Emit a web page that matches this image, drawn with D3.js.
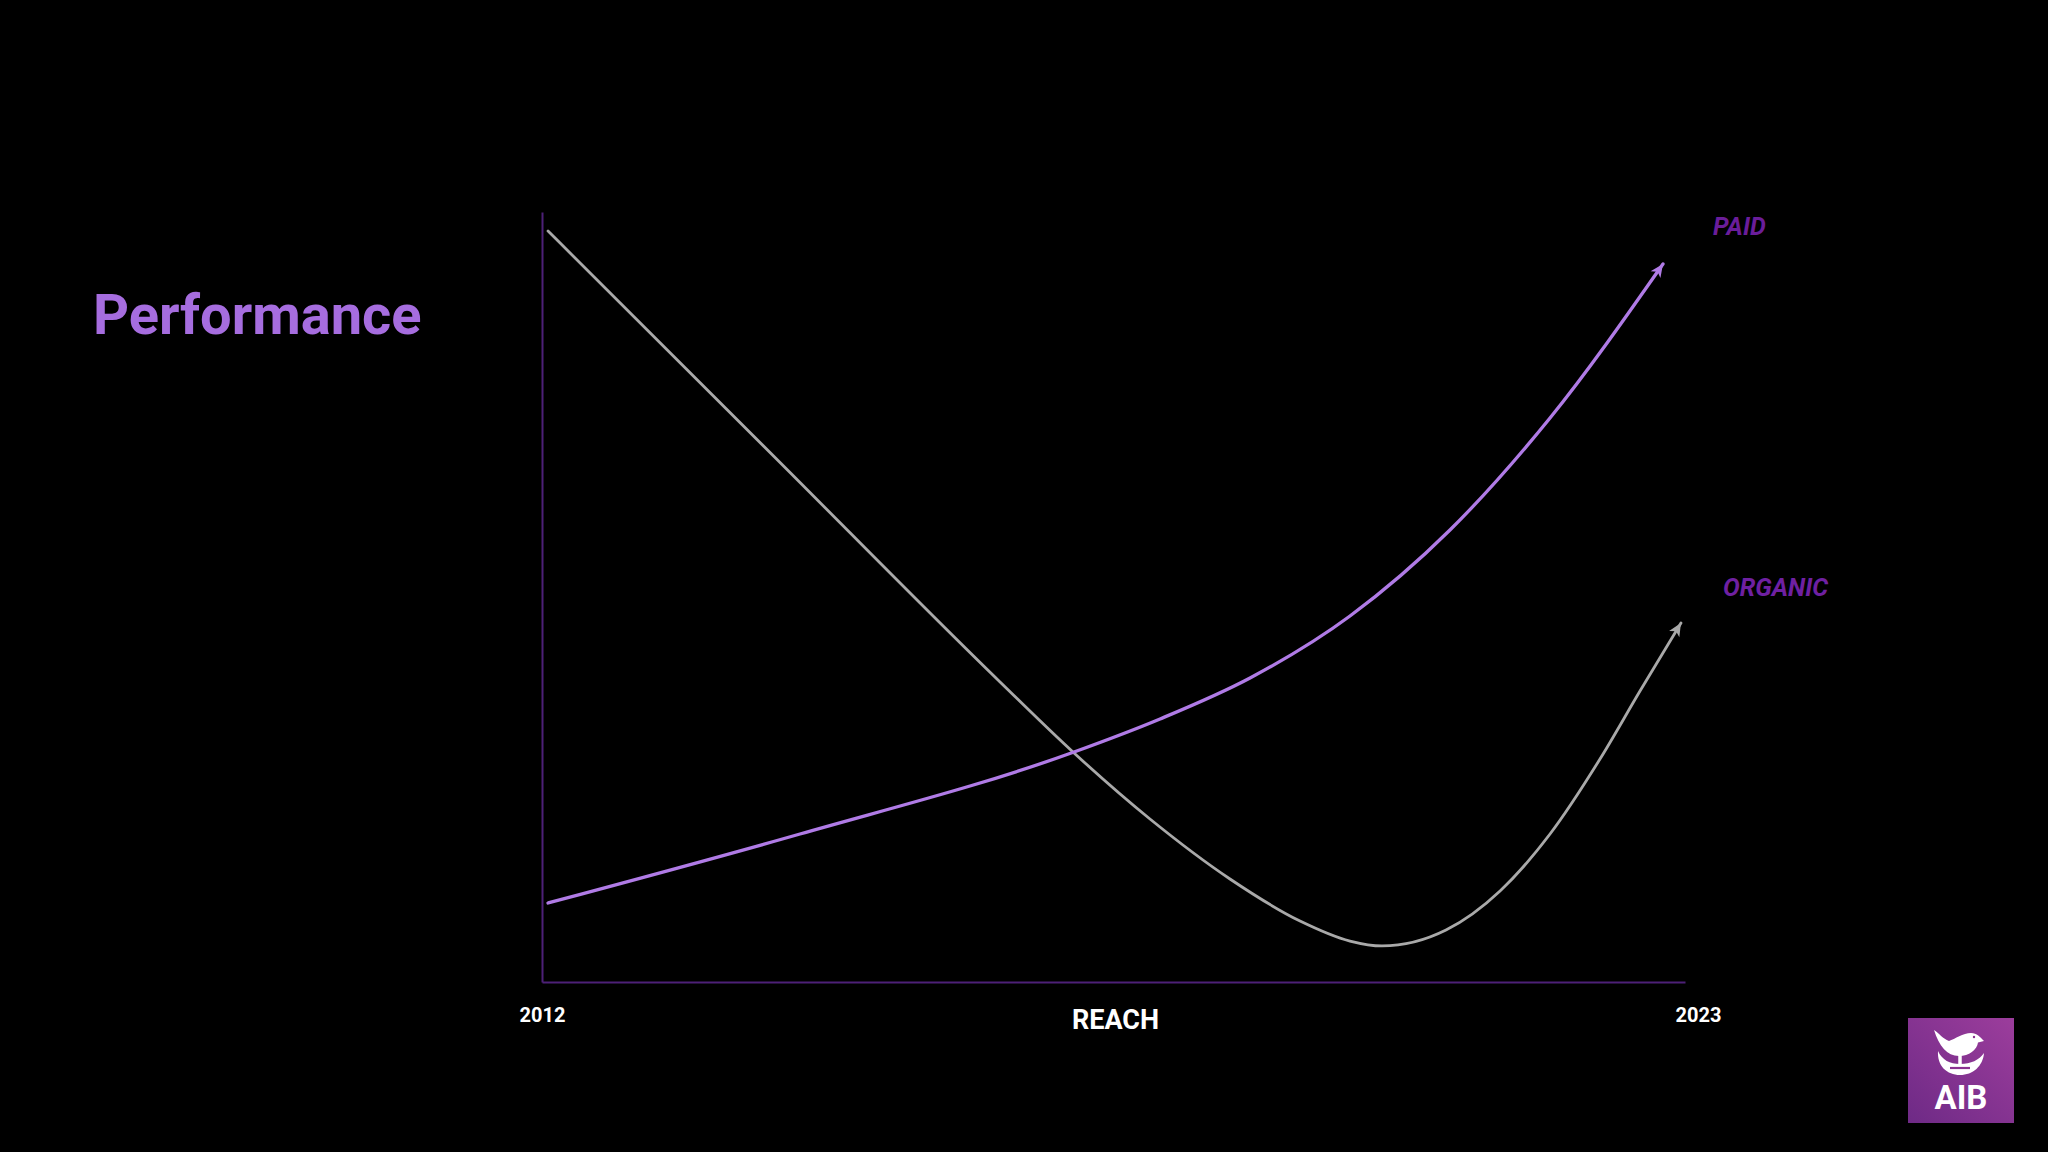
<!DOCTYPE html>
<html>
<head>
<meta charset="utf-8">
<script src="https://cdn.jsdelivr.net/npm/d3@7"></script>
<style>
  html, body { margin: 0; padding: 0; background: #000; }
  svg { display: block; }
</style>
</head>
<body>
<svg id="chart" width="2048" height="1152"></svg>
<script>
// ---- Data ----
const years = [2012, 2023];
const tickLabels = ["2012", "2023"];
const xAxisTitle = "REACH";
const chartTitle = "Performance";
const seriesNames = ["PAID", "ORGANIC"];

// x = year (fractional), y = relative level 0–100
const paidX = [2012.058, 2014.483, 2017.120, 2017.948, 2018.814, 2019.776, 2020.738, 2021.701, 2022.788];
const paidY = [10.26, 19.22, 29.87, 34.16, 39.48, 47.53, 58.70, 73.25, 93.25];

const organicX = [2012.058, 2014.233, 2016.408, 2017.120, 2017.851, 2018.621, 2019.295, 2019.776, 2020.084, 2020.700, 2021.220, 2021.701, 2022.182, 2022.567, 2022.961];
const organicY = [97.53, 68.25, 38.96, 29.74, 21.17, 13.38, 7.92, 5.32, 4.68, 6.75, 11.82, 19.22, 28.96, 37.79, 46.62];

// ---- Layout ----
const svg = d3.select("#chart");
const W = 2048, H = 1152;
svg.append("rect").attr("width", W).attr("height", H).attr("fill", "#000");

const x = d3.scaleLinear().domain([2012, 2023]).range([542, 1685]);
const y = d3.scaleLinear().domain([0, 100]).range([982, 212]);

const axisColor = "#4d2077";
const paidColor = "#b07be6";
const organicColor = "#a9a9a9";

// defs: arrow markers
const defs = svg.append("defs");
function marker(id, color) {
  defs.append("marker")
    .attr("id", id)
    .attr("viewBox", "-14 -7 16 14")
    .attr("markerUnits", "userSpaceOnUse")
    .attr("markerWidth", 16).attr("markerHeight", 14)
    .attr("refX", 0).attr("refY", 0)
    .attr("orient", "auto")
    .append("path")
    .attr("d", "M0,0 L-13,-6 L-9.5,0 L-13,6 Z")
    .attr("fill", color);
}
marker("arrowPaid", paidColor);
marker("arrowOrganic", organicColor);

// logo gradient
const grad = defs.append("linearGradient").attr("id", "logoGrad")
  .attr("x1", "0%").attr("y1", "100%").attr("x2", "100%").attr("y2", "0%");
grad.append("stop").attr("offset", "0%").attr("stop-color", "#6e2a86");
grad.append("stop").attr("offset", "100%").attr("stop-color", "#9c3d9c");

// axes
const xAxis = d3.axisBottom(x).tickValues(years).tickFormat((d, i) => tickLabels[i]).tickSize(0).tickPadding(0);
const gx = svg.append("g").attr("transform", `translate(0,${y(0)})`).call(xAxis);
gx.select(".domain").attr("stroke", axisColor).attr("stroke-width", 2);
gx.selectAll(".tick text")
  .attr("fill", "#ffffff")
  .attr("font-family", "Roboto, 'Noto Sans', sans-serif")
  .attr("font-weight", 700)
  .attr("font-size", 20)
  .attr("dy", 0)
  .attr("y", 40)
  .attr("dominant-baseline", "alphabetic");
gx.selectAll(".tick").filter(d => d === 2023).select("text").attr("dx", 13);

const yAxis = d3.axisLeft(y).tickValues([]).tickSize(0);
const gy = svg.append("g").attr("transform", `translate(${x(2012)},0)`).call(yAxis);
gy.select(".domain").attr("stroke", axisColor).attr("stroke-width", 2);

// axis title
svg.append("text")
  .attr("x", (x(2012) + x(2023)) / 2 + 2)
  .attr("y", 1029)
  .attr("text-anchor", "middle")
  .attr("fill", "#ffffff")
  .attr("font-family", "Roboto, 'Noto Sans', sans-serif")
  .attr("font-weight", 700)
  .attr("font-size", 27)
  .text(xAxisTitle);

// lines
const line = d3.line().x(d => x(d[0])).y(d => y(d[1])).curve(d3.curveMonotoneX);
const paid = paidX.map((v, i) => [v, paidY[i]]);
const organic = organicX.map((v, i) => [v, organicY[i]]);

svg.append("path").datum(organic)
  .attr("d", line)
  .attr("fill", "none")
  .attr("stroke", organicColor)
  .attr("stroke-width", 2.8)
  .attr("stroke-linecap", "round")
  .attr("marker-end", "url(#arrowOrganic)");

svg.append("path").datum(paid)
  .attr("d", line)
  .attr("fill", "none")
  .attr("stroke", paidColor)
  .attr("stroke-width", 3.3)
  .attr("stroke-linecap", "round")
  .attr("marker-end", "url(#arrowPaid)");

// series labels
svg.append("text")
  .attr("x", 1713).attr("y", 235)
  .attr("fill", "#6a1d9a")
  .attr("font-family", "Roboto, 'Noto Sans', sans-serif")
  .attr("font-weight", 700).attr("font-style", "italic")
  .attr("font-size", 25)
  .text(seriesNames[0]);
svg.append("text")
  .attr("x", 1723).attr("y", 596)
  .attr("fill", "#6f20a2")
  .attr("font-family", "Roboto, 'Noto Sans', sans-serif")
  .attr("font-weight", 700).attr("font-style", "italic")
  .attr("font-size", 25)
  .text(seriesNames[1]);

// title
svg.append("text")
  .attr("x", 93).attr("y", 334)
  .attr("fill", "#a66ddf")
  .attr("font-family", "Roboto, 'Noto Sans', sans-serif")
  .attr("font-weight", 700)
  .attr("font-size", 56)
  .text(chartTitle);

// logo
const logo = svg.append("g").attr("transform", "translate(1908,1018)");
logo.append("rect").attr("width", 106).attr("height", 105).attr("fill", "url(#logoGrad)");
// bird
logo.append("path")
  .attr("d", "M26,12 C31,15 35,21 41,23 C47,21 55,15 63,15 C69,15 72,19 76,23 L70,24.5 C69,32 61,38 51,38 C39,38 31,28 26,12 Z")
  .attr("fill", "#fff");
logo.append("circle").attr("cx", 66).attr("cy", 19).attr("r", 1.2).attr("fill", "#8a2f8e");
// hull
logo.append("path")
  .attr("d", "M30,33 C29,48 39,57 52,57 C65,57 75,48 76,35 C71,42 63,46 52,46 C42,46 34,42 30,33 Z")
  .attr("fill", "#fff");
logo.append("line").attr("x1", 52).attr("y1", 37).attr("x2", 52).attr("y2", 57).attr("stroke", "#fff").attr("stroke-width", 3.5);
logo.append("line").attr("x1", 42).attr("y1", 50).attr("x2", 62).attr("y2", 50).attr("stroke", "#8a3190").attr("stroke-width", 2.2);
logo.append("text")
  .attr("x", 53).attr("y", 91)
  .attr("text-anchor", "middle")
  .attr("fill", "#fff")
  .attr("font-family", "Roboto, 'Noto Sans', sans-serif")
  .attr("font-weight", 700)
  .attr("font-size", 33)
  .text("AIB");
</script>
</body>
</html>
